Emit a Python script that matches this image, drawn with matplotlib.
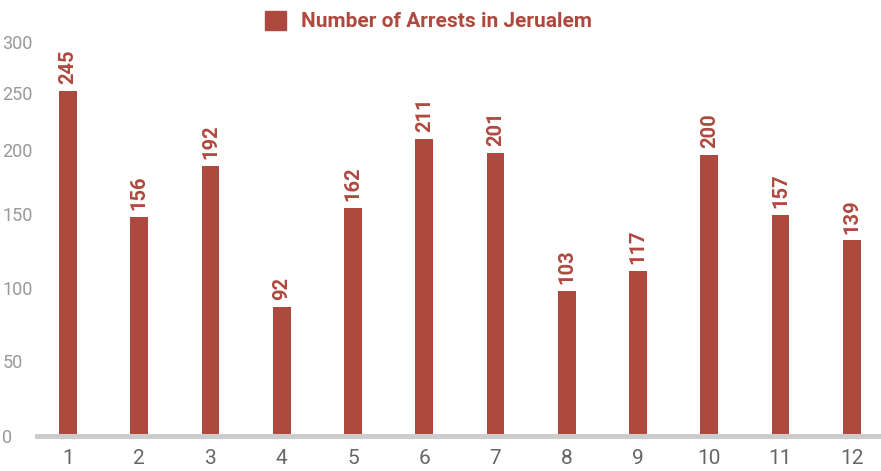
import matplotlib.pyplot as plt
from matplotlib.patches import Patch

months = [1, 2, 3, 4, 5, 6, 7, 8, 9, 10, 11, 12]
arrests = [245, 156, 192, 92, 162, 211, 201, 103, 117, 200, 157, 139]

# y labels sit at uneven heights in the source chart
ytick_pos = [0, 53, 105, 158, 203, 244, 280]
ytick_labels = ['0', '50', '100', '150', '200', '250', '300']

bar_color = '#ae493f'

plt.rcParams['font.family'] = ['Roboto', 'DejaVu Sans']

fig = plt.figure(figsize=(8.81, 4.71), dpi=100)
ax = fig.add_axes([37 / 881, 35 / 471, 844 / 881, 422 / 471])

ax.bar(months, arrests, width=0.25, color=bar_color)

for m, v in zip(months, arrests):
    ax.annotate(str(v), (m, v), xytext=(0, 5), textcoords='offset points',
                rotation=90, ha='center', va='bottom', fontsize=14.5,
                fontweight='bold', color=bar_color)

ax.set_xlim(0.565, 12.41)
ax.set_ylim(0, 300)

ax.set_xticks(months)
ax.set_xticklabels([str(m) for m in months], fontsize=15, color='#666666')
ax.set_yticks(ytick_pos)
ax.set_yticklabels(ytick_labels, fontsize=13, color='#999999')
for lbl in ax.get_yticklabels():
    lbl.set_ha('left')
ax.tick_params(axis='y', length=0, pad=25)
ax.tick_params(axis='x', length=0, pad=9)

for s in ['top', 'right', 'left']:
    ax.spines[s].set_visible(False)
ax.spines['bottom'].set_color('#cccccc')
ax.spines['bottom'].set_linewidth(3.6)

handle = Patch(color=bar_color, label='Number of Arrests in Jerualem')
leg = fig.legend(handles=[handle], loc='center', bbox_to_anchor=(0.486, 0.955),
                 frameon=False, handlelength=1.0, handleheight=1.0,
                 handletextpad=0.72, prop={'size': 15, 'weight': 'bold'})
for t in leg.get_texts():
    t.set_color(bar_color)

fig.savefig('out.png', dpi=100)
